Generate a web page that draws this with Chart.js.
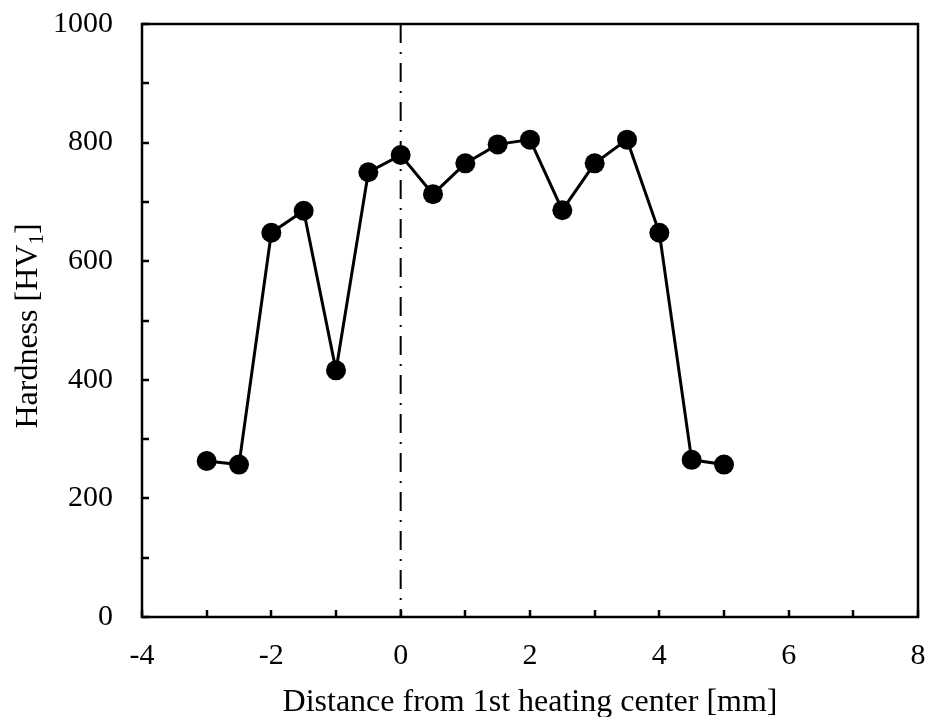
<!DOCTYPE html>
<html>
<head>
<meta charset="utf-8">
<script src="https://cdn.jsdelivr.net/npm/chart.js@4.4.1/dist/chart.umd.min.js"></script>
<style>
  html, body { margin: 0; padding: 0; background: #ffffff; }
  #wrap { width: 929px; height: 717px; }
</style>
</head>
<body>
<div id="wrap"><canvas id="c" width="929" height="717"></canvas></div>
<script>
// Measurement positions along the line [mm] and Vickers hardness at each point
const distanceMm = [-3, -2.5, -2, -1.5, -1, -0.5, 0, 0.5, 1, 1.5, 2, 2.5, 3, 3.5, 4, 4.5, 5];
const hardnessHV = [263, 257, 648, 685, 416, 750, 779, 713, 765, 797, 805, 686, 765, 805, 648, 265, 257];

// Axis ranges and label steps
const xRange = [-4, 8];
const xLabelStep = 2;
const yRange = [0, 1000];
const yLabelStep = 200;

// Reference line marking the 1st heating center
const heatingCenterX = 0;

const FONT = '"Liberation Serif", "Times New Roman", serif';

const points = distanceMm.map((x, i) => ({ x: x, y: hardnessHV[i] }));

const frameAndTitles = {
  id: 'frameAndTitles',
  beforeDatasetsDraw(chart) {
    const { ctx, chartArea: a, scales } = chart;
    const x0 = scales.x.getPixelForValue(heatingCenterX);
    ctx.save();
    ctx.strokeStyle = '#000';
    ctx.lineWidth = 2;
    ctx.setLineDash([19, 9, 2, 9]);
    ctx.beginPath();
    ctx.moveTo(x0, a.top);
    ctx.lineTo(x0, a.bottom);
    ctx.stroke();
    ctx.restore();
  },
  afterDraw(chart) {
    const { ctx, chartArea: a, scales } = chart;
    ctx.save();
    ctx.strokeStyle = '#000';
    ctx.lineWidth = 2.5;
    ctx.setLineDash([]);
    // inward tick marks on the bottom and left axes
    ctx.beginPath();
    for (let v = xRange[0]; v <= xRange[1]; v += 1) {
      const px = Math.round(scales.x.getPixelForValue(v));
      ctx.moveTo(px, a.bottom);
      ctx.lineTo(px, a.bottom - 7);
    }
    for (let v = yRange[0]; v <= yRange[1]; v += 100) {
      const py = Math.round(scales.y.getPixelForValue(v));
      ctx.moveTo(a.left, py);
      ctx.lineTo(a.left + 7, py);
    }
    ctx.stroke();
    // plot frame
    ctx.strokeRect(a.left, a.top, a.right - a.left, a.bottom - a.top);

    // axis titles
    ctx.fillStyle = '#000';
    ctx.font = '32px ' + FONT;
    ctx.textAlign = 'center';
    ctx.textBaseline = 'alphabetic';
    ctx.fillText('Distance from 1st heating center [mm]', (a.left + a.right) / 2, 711);

    // vertical title with subscript
    const main = 'Hardness [HV';
    const sub = '1';
    const tail = ']';
    ctx.font = '32px ' + FONT;
    const wMain = ctx.measureText(main).width;
    const wTail = ctx.measureText(tail).width;
    ctx.font = '21px ' + FONT;
    const wSub = ctx.measureText(sub).width;
    const total = wMain + wSub + wTail;
    ctx.translate(37, 326);
    ctx.rotate(-Math.PI / 2);
    ctx.textAlign = 'left';
    let cx = -total / 2;
    ctx.font = '32px ' + FONT;
    ctx.fillText(main, cx, 0);
    cx += wMain;
    ctx.font = '21px ' + FONT;
    ctx.fillText(sub, cx, 6);
    cx += wSub;
    ctx.font = '32px ' + FONT;
    ctx.fillText(tail, cx, 0);
    ctx.restore();
  }
};

new Chart(document.getElementById('c'), {
  type: 'scatter',
  data: {
    datasets: [{
      data: points,
      showLine: true,
      borderColor: '#000',
      borderWidth: 3,
      pointRadius: 10,
      pointHoverRadius: 10,
      pointBackgroundColor: '#000',
      pointBorderColor: '#000',
      pointBorderWidth: 0,
      tension: 0
    }]
  },
  options: {
    responsive: false,
    animation: false,
    events: [],
    layout: { padding: { top: 24, right: 11, left: 0, bottom: 0 } },
    plugins: {
      legend: { display: false },
      tooltip: { enabled: false }
    },
    scales: {
      x: {
        type: 'linear',
        min: xRange[0],
        max: xRange[1],
        grid: { display: false, drawTicks: false },
        border: { display: false },
        ticks: {
          stepSize: 1,
          autoSkip: false,
          maxRotation: 0,
          padding: 21,
          color: '#000',
          font: { family: FONT, size: 30 },
          callback: (v) => (v % xLabelStep === 0 ? String(v) : '')
        },
        afterFit: (s) => {
          s.height = 100;
          s.paddingLeft = 0;
          s.paddingRight = 0;
        }
      },
      y: {
        type: 'linear',
        min: yRange[0],
        max: yRange[1],
        grid: { display: false, drawTicks: false },
        border: { display: false },
        ticks: {
          stepSize: 100,
          autoSkip: false,
          padding: 29,
          color: '#000',
          font: { family: FONT, size: 30 },
          callback: (v) => (v % yLabelStep === 0 ? String(v) : '')
        },
        afterFit: (s) => {
          s.width = 142;
          s.paddingTop = 0;
          s.paddingBottom = 0;
        }
      }
    }
  },
  plugins: [frameAndTitles]
});
</script>
</body>
</html>
